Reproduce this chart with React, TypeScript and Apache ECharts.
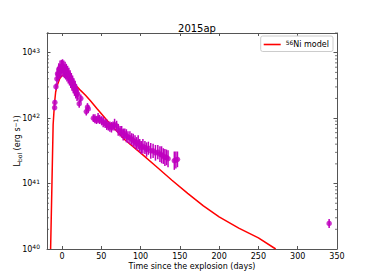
import React, { useEffect, useRef } from "react";
import * as echarts from "echarts";

const title = "2015ap";
const xTickValues = [0, 50, 100, 150, 200, 250, 300, 350];
const yTickValues = [1e40, 1e41, 1e42, 1e43];
const yMinorValues = [
  2e40, 3e40, 4e40, 5e40, 6e40, 7e40, 8e40, 9e40,
  2e41, 3e41, 4e41, 5e41, 6e41, 7e41, 8e41, 9e41,
  2e42, 3e42, 4e42, 5e42, 6e42, 7e42, 8e42, 9e42,
  2e43,
];

// Observed bolometric light curve (log10 L in erg/s)
const obsDays = [
  -9.3, -9.0, -7.6, -6.4, -5.6, -4.8, -4.0, -3.2, -2.4, -1.6, -0.8, 0.0, 0.8, 1.6, 2.4, 3.2, 4.0,
  4.8, 5.6, 6.4, 7.2, 8.0, 8.8, 9.6, 10.4, 11.2, 12.0, 12.8, 13.6, 14.4, 15.2, 16.0, 16.8, 17.6,
  18.4, 19.2, 20.0, 22.0, 24.0, 31.0, 32.5, 33.5, 40.0, 42.0, 44.0, 46.0, 48.0, 50.5, 52.5, 55.0,
  57.0, 59.0, 61.0, 63.0, 65.0, 67.0, 69.6, 71.6, 74.0, 76.0, 78.0, 80.0, 82.0, 84.0, 86.5, 88.7,
  90.7, 93.0, 95.0, 97.0, 99.0, 101.0, 103.0, 105.6, 107.7, 110.0, 113.0, 116.0, 119.0, 122.0,
  124.7, 126.8, 129.0, 131.0, 133.0, 135.0, 143.0, 145.0, 147.0, 340.0,
];
const obsLogL = [
  42.16, 42.24, 42.48, 42.6, 42.68, 42.66, 42.74, 42.7, 42.78, 42.72, 42.79, 42.74, 42.8, 42.73,
  42.78, 42.71, 42.76, 42.69, 42.73, 42.66, 42.7, 42.63, 42.67, 42.6, 42.63, 42.56, 42.59, 42.52,
  42.55, 42.48, 42.51, 42.44, 42.47, 42.4, 42.42, 42.36, 42.37, 42.22, 42.3, 42.1, 42.17, 42.14,
  42.0, 41.99, 41.97, 42.0, 41.98, 41.96, 41.94, 41.92, 41.9, 41.88, 41.87, 41.86, 41.88, 41.9,
  41.88, 41.82, 41.8, 41.79, 41.75, 41.76, 41.73, 41.71, 41.7, 41.68, 41.66, 41.64, 41.61, 41.63,
  41.58, 41.55, 41.57, 41.55, 41.52, 41.54, 41.5, 41.5, 41.47, 41.48, 41.45, 41.44, 41.42, 41.4,
  41.4, 41.38, 41.35, 41.36, 41.37, 40.39,
];
const obsLogErr = [
  0.04, 0.04, 0.05, 0.1, 0.1, 0.1, 0.1, 0.1, 0.1, 0.1, 0.1, 0.1, 0.1, 0.1, 0.1, 0.1,
  0.1, 0.1, 0.1, 0.1, 0.1, 0.1, 0.1, 0.1, 0.1, 0.1, 0.1, 0.1, 0.1, 0.1, 0.1, 0.1, 0.1,
  0.1, 0.1, 0.1, 0.09, 0.06, 0.06, 0.06, 0.06, 0.06, 0.06, 0.07, 0.06, 0.08, 0.07, 0.07,
  0.08, 0.07, 0.08, 0.07, 0.08, 0.08, 0.07, 0.09, 0.08, 0.09, 0.08, 0.09, 0.09, 0.08, 0.1, 0.09,
  0.1, 0.09, 0.1, 0.1, 0.1, 0.11, 0.1, 0.1, 0.11, 0.1, 0.11, 0.1, 0.12, 0.11, 0.12, 0.11, 0.12,
  0.13, 0.12, 0.13, 0.12, 0.13, 0.14, 0.13, 0.12, 0.07,
];

// 56Ni model curve (log10 L in erg/s)
const modelDays = [
  -14.4, -12.7, -11.2, -9.5, -8, -6, -3, 0, 4, 8, 12, 16, 20, 24, 30, 36, 45, 60, 80, 100, 120,
  140, 160, 180, 200, 225, 250, 272,
];
const modelLogL = [
  40.0, 41.0, 41.9, 42.22, 42.4, 42.5, 42.6, 42.65, 42.67, 42.65, 42.6, 42.53, 42.47, 42.42,
  42.35, 42.27, 42.14, 41.93, 41.67, 41.47, 41.26, 41.05, 40.85, 40.66, 40.49, 40.32, 40.17, 40.0,
];

const X_MIN = -19;
const X_MAX = 350;
const Y_MIN = 1e40;
const Y_MAX = 2e43;

const AXIS_COLOR = "#555";
const FONT = "DejaVu Sans";
const MAGENTA = "#bf00bf";

export default function App() {
  const ref = useRef<HTMLDivElement>(null);

  useEffect(() => {
    if (!ref.current) return;
    const chart = echarts.init(ref.current, undefined, { renderer: "svg" });

    const pts = obsDays.map((d, i) => [d, Math.pow(10, obsLogL[i])]);
    const errs = obsDays.map((d, i) => [
      d,
      Math.pow(10, obsLogL[i] - obsLogErr[i]),
      Math.pow(10, obsLogL[i] + obsLogErr[i]),
    ]);
    const model = modelDays.map((d, i) => [d, Math.pow(10, modelLogL[i])]);

    const supRich = {
      b: { fontSize: 8, fontFamily: FONT, color: "#000" },
      sup: { fontSize: 6, fontFamily: FONT, color: "#000", verticalAlign: "bottom", padding: [0, 0, 5, 0] },
    };

    const option: any = {
      animation: false,
      backgroundColor: "#fff",
      textStyle: { fontFamily: FONT },
      title: {
        text: title,
        left: 192,
        textAlign: "center",
        top: 18,
        textStyle: { fontSize: 10, fontWeight: "normal", color: "#000", fontFamily: FONT },
      },
      grid: { left: 47, right: 37, top: 33, bottom: 31, show: false, containLabel: false, outerBoundsMode: "none" },
      legend: {
        right: 41,
        top: 36,
        data: [{ name: "model", icon: "rect" }],
        itemWidth: 17,
        itemHeight: 1.6,
        itemGap: 6,
        padding: [3, 4, 3, 3],
        borderColor: "#ccc",
        borderWidth: 1,
        borderRadius: 2,
        backgroundColor: "#fff",
        formatter: () => "{sup|56}{b|Ni model}",
        textStyle: { fontFamily: FONT, fontSize: 8, color: "#000", rich: supRich },
      },
      xAxis: [
        {
          type: "value",
          min: X_MIN,
          max: X_MAX,
          name: "Time since the explosion (days)",
          nameLocation: "middle",
          nameGap: 13,
          nameMoveOverlap: false,
          nameTextStyle: { fontSize: 8, color: "#000", fontFamily: FONT },
          axisLine: { show: true, onZero: false, lineStyle: { color: AXIS_COLOR, width: 1 } },
          axisTick: { show: true, inside: true, length: 3, customValues: xTickValues, lineStyle: { color: AXIS_COLOR } },
          axisLabel: { show: true, customValues: xTickValues, fontSize: 8, color: "#000", margin: 3, fontFamily: FONT },
          splitLine: { show: false },
        },
        {
          type: "value",
          position: "top",
          min: X_MIN,
          max: X_MAX,
          axisLine: { show: true, onZero: false, lineStyle: { color: AXIS_COLOR, width: 1 } },
          axisTick: { show: true, inside: true, length: 3, customValues: xTickValues, lineStyle: { color: AXIS_COLOR } },
          axisLabel: { show: false },
          splitLine: { show: false },
        },
      ],
      yAxis: [
        {
          type: "log",
          logBase: 10,
          min: Y_MIN,
          max: Y_MAX,
          name: "{b|L}{sub|bol}{b| (erg s}{sup|−1}{b|)}",
          nameLocation: "middle",
          nameRotate: 90,
          nameGap: 24,
          nameMoveOverlap: false,
          nameTextStyle: {
            fontSize: 8,
            color: "#000",
            fontFamily: FONT,
            rich: {
              b: { fontSize: 8, fontFamily: FONT, color: "#000" },
              sub: { fontSize: 6, fontFamily: FONT, color: "#000", verticalAlign: "top", padding: [4, 0, 0, 0] },
              sup: { fontSize: 6, fontFamily: FONT, color: "#000", verticalAlign: "bottom", padding: [0, 0, 5, 0] },
            },
          },
          axisLine: { show: true, onZero: false, lineStyle: { color: AXIS_COLOR, width: 1 } },
          axisTick: { show: true, inside: true, length: 3.5, customValues: yTickValues, lineStyle: { color: AXIS_COLOR } },
          axisLabel: {
            show: true,
            customValues: yTickValues,
            margin: 7,
            formatter: (v: number) => "{b|10}{sup|" + Math.round(Math.log10(v)) + "}",
            rich: supRich,
          },
          splitLine: { show: false },
        },
        {
          type: "log",
          logBase: 10,
          position: "right",
          min: Y_MIN,
          max: Y_MAX,
          axisLine: { show: true, onZero: false, lineStyle: { color: AXIS_COLOR, width: 1 } },
          axisTick: { show: true, inside: true, length: 3.5, customValues: yTickValues, lineStyle: { color: AXIS_COLOR } },
          axisLabel: { show: false },
          splitLine: { show: false },
        },
      ],
      series: [
        {
          type: "custom",
          name: "minor",
          silent: true,
          coordinateSystem: "cartesian2d",
          data: yMinorValues.map((v) => [X_MIN, v]),
          encode: { x: 0, y: 1 },
          clip: false,
          renderItem: (params: any, api: any) => {
            const p = api.coord([X_MIN, api.value(1)]);
            const cs = params.coordSys;
            return {
              type: "group",
              children: [
                { type: "line", shape: { x1: cs.x, y1: p[1], x2: cs.x + 2, y2: p[1] }, style: { stroke: AXIS_COLOR, lineWidth: 0.8 } },
                { type: "line", shape: { x1: cs.x + cs.width, y1: p[1], x2: cs.x + cs.width - 2, y2: p[1] }, style: { stroke: AXIS_COLOR, lineWidth: 0.8 } },
              ],
            };
          },
        },
        {
          type: "custom",
          name: "errors",
          silent: true,
          coordinateSystem: "cartesian2d",
          data: errs,
          encode: { x: 0, y: [1, 2] },
          clip: true,
          z: 3,
          renderItem: (params: any, api: any) => {
            const a = api.coord([api.value(0), api.value(1)]);
            const b = api.coord([api.value(0), api.value(2)]);
            return {
              type: "line",
              shape: { x1: a[0], y1: a[1], x2: b[0], y2: b[1] },
              style: { stroke: MAGENTA, lineWidth: 1.5 },
            };
          },
        },
        {
          type: "scatter",
          name: "obs",
          data: pts,
          symbol: "circle",
          symbolSize: 5.5,
          itemStyle: { color: MAGENTA },
          z: 3,
        },
        {
          type: "line",
          name: "model",
          data: model,
          showSymbol: false,
          symbol: "none",
          clip: true,
          lineStyle: { color: "#ff0000", width: 1.5 },
          itemStyle: { color: "#ff0000" },
          z: 2,
        },
      ],
    };

    chart.setOption(option);
    return () => chart.dispose();
  }, []);

  return <div ref={ref} style={{ width: 374, height: 280, position: "absolute", left: 0, top: 0 }} />;
}
